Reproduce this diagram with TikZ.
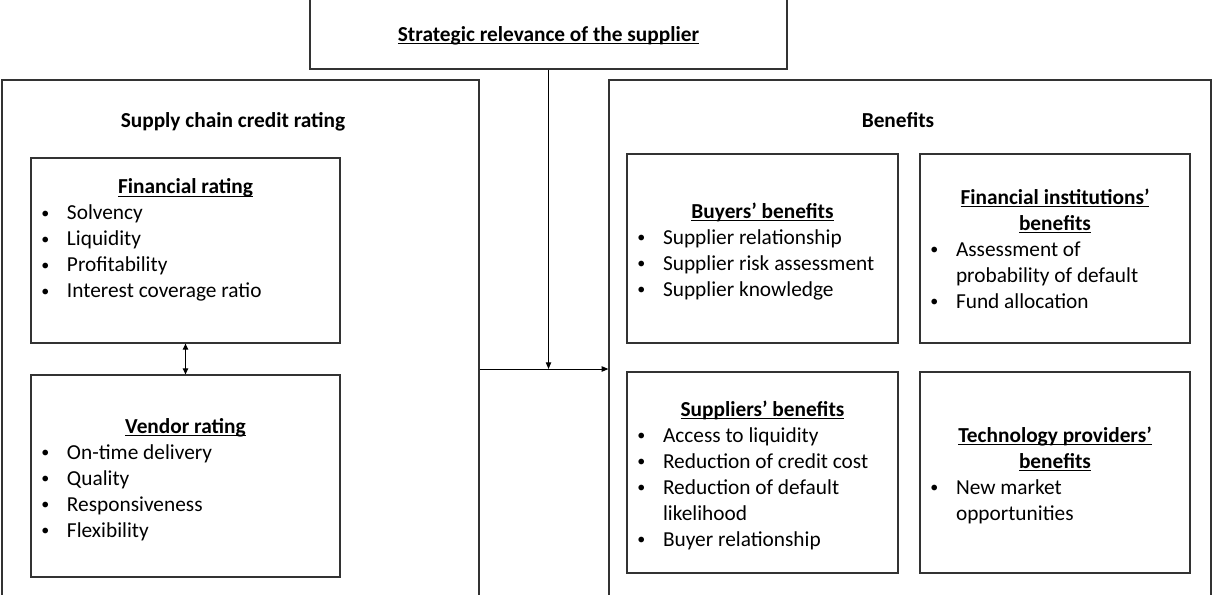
\documentclass[tikz,border=0pt]{standalone}
\usepackage{fontspec}
\setmainfont{Carlito}
\usetikzlibrary{arrows.meta,fit}
\setlength{\parskip}{0pt}
\newcommand{\ttl}[1]{\setbox0\hbox{\bfseries #1}\rlap{\rule[-2.3pt]{\wd0}{0.75pt}}\box0}
\newcommand{\bdot}{\raisebox{1pt}{\fontsize{12}{12}\selectfont\textbullet}}
\newcommand{\bitem}[1]{\par\noindent\hangindent=20.25pt\hangafter=1\makebox[20.25pt][l]{\hspace{1pt}\bdot}#1\par}
\newcommand{\cttl}[1]{{\centering\noindent#1\par}}
\newcommand{\brk}{\hfil\break}
\begin{document}
\begin{tikzpicture}[x=0.75pt,y=-0.75pt,
  box/.style={draw=black!80, line width=0.9pt, inner sep=0pt},
  body/.style={font={\fontsize{16}{19.5}\selectfont}, inner sep=0pt, align=flush left},
  head/.style={font={\fontsize{16}{19.5}\selectfont\bfseries}, inner sep=0pt, anchor=base},
  link/.style={line width=0.75pt, draw=black},
  tip/.style={-{Triangle[length=5pt,width=4pt]}},
  dtip/.style={{Triangle[length=4.5pt,width=4pt]}-{Triangle[length=4.5pt,width=4pt]}}
]
\useasboundingbox (0,0) rectangle (1212,594);
\clip (0,0) rectangle (1212,594);
% boxes
\node[box, fit={(310,-20)(787,69)}] (top) {};
\node[box, fit={(2,80)(479,620)}] (scc) {};
\node[box, fit={(609,80)(1211,620)}] (ben) {};
\node[box, fit={(31,158)(340,343)}] (fin) {};
\node[box, fit={(31,375)(340,577)}] (vend) {};
\node[box, fit={(627,154)(898,343)}] (buy) {};
\node[box, fit={(920,154)(1190,343)}] (finst) {};
\node[box, fit={(627,372)(898,573)}] (sup) {};
\node[box, fit={(920,372)(1190,573)}] (tech) {};
% headings
\node[head] (ttop) at (548.5,41) {\ttl{Strategic relevance of the supplier}};
\node[head] (tscc) at (233,127) {Supply chain credit rating};
\node[head] (tben) at (898,127) {Benefits};
% contents
\node[body, text width=218.25pt] (cfin) at ([yshift=8pt]fin.center)
  {\cttl{\ttl{Financial rating}}\bitem{Solvency}\bitem{Liquidity}\bitem{Profitability}\bitem{Interest coverage ratio}};
\node[body, text width=218.25pt] (cvend) at ([yshift=-2.5pt]vend.center)
  {\cttl{\ttl{Vendor rating}}\bitem{On-time delivery}\bitem{Quality}\bitem{Responsiveness}\bitem{Flexibility}};
\node[body, text width=189.75pt] (cbuy) at ([yshift=-2pt]buy.center)
  {\cttl{\ttl{Buyers’ benefits}}\bitem{Supplier relationship}\bitem{Supplier risk assessment}\bitem{Supplier knowledge}};
\node[body, text width=189pt] (cfinst) at ([yshift=0pt]finst.center)
  {\cttl{\ttl{Financial institutions’}}\cttl{\ttl{benefits}}\bitem{Assessment of\brk probability of default}\bitem{Fund allocation}};
\node[body, text width=189.75pt] (csup) at ([yshift=-2pt]sup.center)
  {\cttl{\ttl{Suppliers’ benefits}}\bitem{Access to liquidity}\bitem{Reduction of credit cost}\bitem{Reduction of default\brk likelihood}\bitem{Buyer relationship}};
\node[body, text width=189pt] (ctech) at ([yshift=-2pt]tech.center)
  {\cttl{\ttl{Technology providers’}}\cttl{\ttl{benefits}}\bitem{New market\brk opportunities}};
% connectors
\coordinate (j) at (548.5,369);
\draw[link,tip] (top.south) -- (j);
\draw[link,tip] (j -| scc.east) -- (j -| ben.west);
\draw[link,dtip] (fin.south) -- (vend.north);
\end{tikzpicture}
\end{document}
